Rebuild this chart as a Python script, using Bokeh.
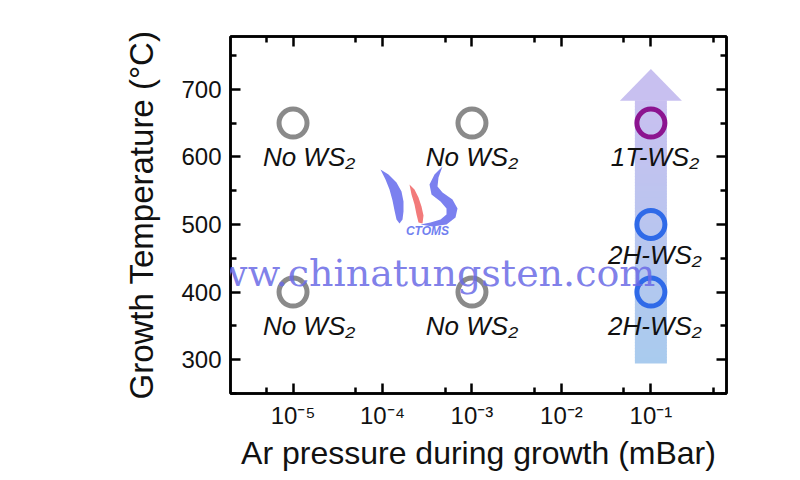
import math
from bokeh.plotting import figure
from bokeh.models import (Range1d, FixedTicker, LogAxis, LinearAxis,
                          CustomJSTickFormatter, ColumnDataSource, Label)
from bokeh.core.properties import value
from bokeh.embed import file_html
from bokeh.resources import INLINE

try:
    from bokeh.models import HTMLLabel as WatermarkLabel
except Exception:  # pragma: no cover
    WatermarkLabel = Label

# ---------------- data ----------------
x_ticks = [1e-5, 1e-4, 1e-3, 1e-2, 1e-1]
x_tick_labels = ["10⁻⁵", "10⁻⁴", "10⁻³", "10⁻²", "10⁻¹"]
x_minor_ticks = [5e-6, 5e-5, 5e-4, 5e-3, 5e-2, 5e-1]
y_ticks = [300, 400, 500, 600, 700]
y_minor_ticks = [250, 350, 450, 550, 650, 750]

pressure = [1e-5, 1e-3, 1e-5, 1e-3, 1e-1, 1e-1, 1e-1]
temperature = [650, 650, 400, 400, 650, 500, 400]
phase = ["No WS₂", "No WS₂", "No WS₂", "No WS₂", "1T-WS₂", "2H-WS₂", "2H-WS₂"]
label_temperature = [600, 600, 350, 350, 600, 455, 350]

arrow_pressure = 1e-1
arrow_bottom = 295
arrow_head_base = 683
arrow_tip = 730

# ---------------- styles ----------------
marker_colors = ["#8a8a8a", "#8a8a8a", "#8a8a8a", "#8a8a8a",
                 "#8c1490", "#2f6ae8", "#2f6ae8"]
label_shift_px = [16, 0, 16, 0, 4, 4, 4]
FONT = "Liberation Sans"

x_lo, x_hi = 2e-6, 0.7
y_lo, y_hi = 250, 778
FRAME = dict(left=230, right=726, top=36, bottom=393)

p = figure(width=800, height=480, x_axis_type="log",
           x_range=Range1d(x_lo, x_hi), y_range=Range1d(y_lo, y_hi),
           output_backend="svg", toolbar_location=None,
           min_border_left=FRAME["left"], min_border_right=800 - FRAME["right"],
           min_border_top=FRAME["top"], min_border_bottom=480 - FRAME["bottom"])
p.background_fill_color = "white"
p.border_fill_color = "white"
p.grid.visible = False
p.outline_line_color = "black"
p.outline_line_width = 2.5

px_per_decade = (FRAME["right"] - FRAME["left"]) / (math.log10(x_hi) - math.log10(x_lo))
px_per_unit = (FRAME["bottom"] - FRAME["top"]) / (y_hi - y_lo)


def from_px(xp, yp):
    """page pixel -> data coordinates (used only for decorations)"""
    x = 10 ** (math.log10(x_lo) + (xp - FRAME["left"]) / px_per_decade)
    y = y_hi - (yp - FRAME["top"]) / px_per_unit
    return x, y


# gradient arrow (shaft as thin slices, then head)
def lerp_color(c1, c2, t):
    a = [int(c1[i:i + 2], 16) for i in (1, 3, 5)]
    b = [int(c2[i:i + 2], 16) for i in (1, 3, 5)]
    return "#%02x%02x%02x" % tuple(round(a[k] + (b[k] - a[k]) * t) for k in range(3))


n = 90
dy = (arrow_head_base - arrow_bottom) / n
ys = [arrow_bottom + dy * (i + 0.5) for i in range(n)]
cols = [lerp_color("#a9cbee", "#c8c0f0", i / (n - 1)) for i in range(n)]
p.rect(x=[arrow_pressure] * n, y=ys, width=32, width_units="screen",
       height=dy * 1.3, fill_color=cols, line_color=None)

half_head = 31 / px_per_decade
p.patch(x=[arrow_pressure * 10 ** (-half_head), arrow_pressure * 10 ** half_head, arrow_pressure],
        y=[arrow_head_base, arrow_head_base, arrow_tip],
        fill_color="#c8c0f0", line_color=None)

# watermark logo (decoration, rough shapes)
logo_shapes = {
    "#7b80ef": [
        [(380, 169), (388, 174), (396, 182), (401, 191), (403, 201), (403, 211),
         (402, 219), (399, 223), (396, 219), (394, 210), (392, 200), (389, 189), (385, 179)],
        [(442, 166), (434, 174), (429, 184), (431, 194), (440, 201), (446, 208),
         (446, 214), (440, 219), (430, 222), (420, 224), (432, 226), (446, 224),
         (455, 217), (457, 208), (452, 199), (442, 192), (437, 186), (438, 177)],
    ],
    "#f27a7a": [
        [(409, 184), (414, 189), (418, 197), (421, 206), (423, 215), (422, 223),
         (418, 222), (416, 214), (414, 204), (411, 194)],
    ],
}
for color, shapes in logo_shapes.items():
    for shape in shapes:
        pts = [from_px(a, b) for a, b in shape]
        p.patch(x=[q[0] for q in pts], y=[q[1] for q in pts],
                fill_color=color, line_color=None)

src = ColumnDataSource(dict(x=pressure, y=temperature, c=marker_colors,
                            ly=label_temperature, t=phase, dx=label_shift_px))
p.scatter(x="x", y="y", source=src, size=28, marker="circle",
          fill_color=None, line_color="c", line_width=5)
p.text(x="x", y="ly", text="t", source=src, x_offset="dx",
       text_align="center", text_baseline="middle",
       text_font=value(FONT), text_font_style="italic",
       text_font_size="26px", text_color="#111111")

# watermark text
wx, wy = from_px(419, 273)
wm = WatermarkLabel(x=wx, y=wy, text="www.chinatungsten.com",
                    text_align="center", text_baseline="alphabetic",
                    text_font="DejaVu Serif", text_font_size="38px",
                    text_color="#6a6ae6", text_alpha=0.85)
try:
    wm.styles = {"font-family": "'DejaVu Serif', serif"}
except Exception:
    pass
p.add_layout(wm)
cx, cy = from_px(427, 230)
p.add_layout(Label(x=cx, y=cy, text="CTOMS", text_align="center",
                   text_baseline="middle", text_font="Liberation Sans",
                   text_font_style="bold italic", text_font_size="12px",
                   text_color="#7080f0"))

# axes
fmt = CustomJSTickFormatter(args=dict(tvals=x_ticks, tlabels=x_tick_labels), code="""
let best = 0, bd = 1e9;
for (let i = 0; i < tvals.length; i++) {
  const d = Math.abs(Math.log10(tick) - Math.log10(tvals[i]));
  if (d < bd) { bd = d; best = i; }
}
return tlabels[best];
""")
blank = CustomJSTickFormatter(code="return '';")


def style(ax, show, label_size="32px"):
    ax.axis_line_width = 2.5
    ax.major_tick_line_width = 2.5
    ax.minor_tick_line_width = 2.5
    ax.major_tick_in = 10
    ax.major_tick_out = 0
    ax.minor_tick_in = 6
    ax.minor_tick_out = 0
    ax.major_label_text_font = FONT
    ax.axis_label_text_font = FONT
    ax.axis_label_text_font_style = "normal"
    ax.major_label_text_color = "#111111"
    ax.axis_label_text_color = "#111111"
    if show:
        ax.major_label_text_font_size = "24px"
        ax.axis_label_text_font_size = label_size
    else:
        ax.major_label_text_font_size = "0px"


xt = FixedTicker(ticks=x_ticks, minor_ticks=x_minor_ticks)
yt = FixedTicker(ticks=y_ticks, minor_ticks=y_minor_ticks)

xa = p.xaxis[0]
xa.ticker = xt
xa.formatter = fmt
xa.axis_label = "Ar pressure during growth (mBar)"
xa.major_label_standoff = 8
xa.axis_label_standoff = 3
style(xa, True, "32px")

ya = p.yaxis[0]
ya.ticker = yt
ya.axis_label = "Growth Temperature (°C)"
ya.major_label_standoff = 9
ya.axis_label_standoff = 18
style(ya, True, "33px")

top = LogAxis(ticker=xt, formatter=blank)
style(top, False)
p.add_layout(top, "above")
right = LinearAxis(ticker=yt, formatter=blank)
style(right, False)
p.add_layout(right, "right")

open("out.html", "w").write(file_html(p, INLINE))
